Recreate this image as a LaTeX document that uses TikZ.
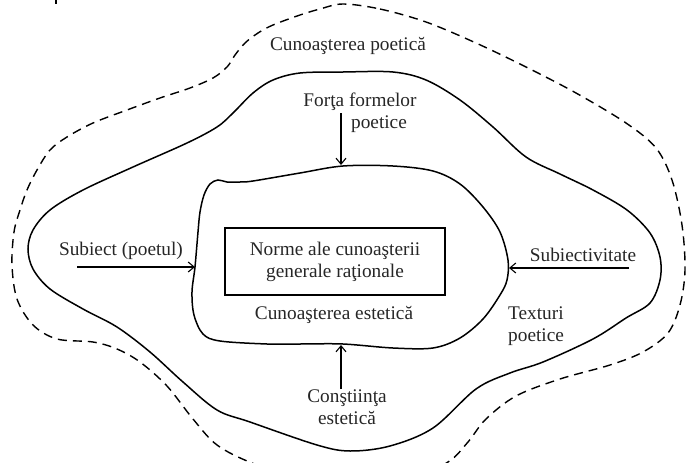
\documentclass[tikz,border=0pt]{standalone}
\usepackage{fontspec}
\setmainfont{Liberation Serif}
\usetikzlibrary{arrows.meta}
\begin{document}
\begin{tikzpicture}[x=1pt,y=-1pt,
  lbl/.style={inner sep=0pt, font=\fontsize{19.3}{22}\selectfont, align=center, text=black!85},
  conn/.style={line width=1.3pt, -{Straight Barb[length=6pt,width=10pt,line width=1.1pt]}},
  curve/.style={line width=1.5pt},
  dcurve/.style={line width=1.4pt, dash pattern=on 9pt off 6pt}]
\useasboundingbox (0,0) rectangle (686,463);
\clip (0,0) rectangle (686,463);
% outer dashed region
\draw[dcurve] plot[smooth cycle, tension=0.55] coordinates {
 (343,4) (380,9) (426,22) (476,43) (526,67) (576,93) (626,123) (656,148)
 (672,180) (682,225) (685,270) (680,305) (668,333) (643,352) (610,365)
 (560,379) (516,396) (486,419) (468,442) (448,462) (410,478) (300,478)
 (252,463) (217,445) (193,419) (167,386) (140,362) (117,349) (93,342)
 (57,339) (33,325) (17,299) (12,265) (14,232) (20,210) (27,190) (37,170)
 (50,150) (67,137) (93,123) (127,110) (160,98) (190,88) (213,78) (227,67)
 (235,55) (245,43) (258,33) (273,25) (300,15) (320,9)};
% middle solid region
\draw[curve] plot[smooth cycle, tension=0.55] coordinates {
 (343,72) (393,72) (426,80) (460,100) (493,127) (526,157) (560,174)
 (593,190) (627,210) (650,233) (660,257) (660,280) (650,303) (626,318)
 (593,339) (543,362) (510,373) (476,389) (433,428) (390,446) (350,451)
 (317,445) (250,422) (217,410) (183,382) (150,352) (117,327) (83,309)
 (50,289) (33,269) (28,249) (33,230) (50,210) (83,190) (133,167) (187,143)
 (217,127) (233,113) (253,93) (273,80) (300,73)};
% inner blob
\draw[curve] plot[smooth cycle, tension=0.55] coordinates {
 (343,166) (393,166) (433,171) (460,184) (483,207) (500,232) (508,260)
 (507,280) (500,295) (483,319) (460,338) (433,348) (393,348) (343,344)
 (300,344) (267,344) (220,341) (203,334) (194,315) (192,292) (195,267)
 (198,232) (200,212) (204,195) (210,184) (218,180) (227,182) (240,182)
 (253,181) (300,173)};
% tiny mark
\draw[line width=2.5pt] (56,0) -- (56,3.5);
% labels
\node[lbl] (poetica) at (348,46) {Cunoaşterea poetică};
\node[lbl] (forta1) at (360,102) {Forţa formelor};
\node[lbl] (forta2) at (379,124) {poetice};
\node[lbl] (subiect) at (121,251) {Subiect (poetul)};
\node[lbl] (subiectiv) at (583,255) {Subiectivitate};
\node[lbl, draw, line width=1.5pt, minimum width=220pt, minimum height=67pt] (norme) at (335,261.5) {Norme ale cunoaşterii\\generale raţionale};
\node[lbl] (estetica) at (334,315) {Cunoaşterea estetică};
\node[lbl, anchor=west, align=left] (texturi) at (508,326) {Texturi\\poetice};
\node[lbl] (constiinta) at (347,407) {Conştiinţa\\estetică};
% arrow ends
\coordinate (fs) at (341,113); \coordinate (fe) at (341,165);
\coordinate (ss) at (77,267);  \coordinate (se) at (195,267);
\coordinate (vs) at (629,268); \coordinate (ve) at (509,268);
\coordinate (cs) at (341,389); \coordinate (ce) at (341,345);
\draw[conn] (fs) -- (fe);
\draw[conn] (ss) -- (se);
\draw[conn] (vs) -- (ve);
\draw[conn] (cs) -- (ce);
\end{tikzpicture}
\end{document}
